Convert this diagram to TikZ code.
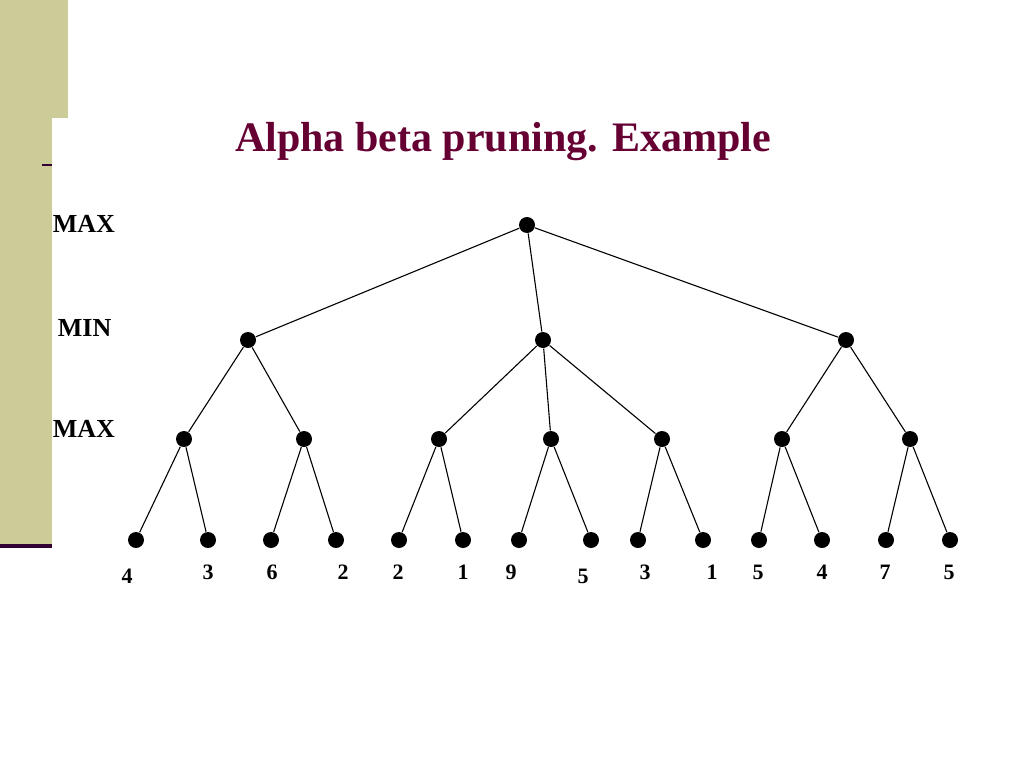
\documentclass[tikz,border=0pt]{standalone}
\usepackage{fontspec}
\setmainfont{Liberation Serif}
\definecolor{sidebar}{RGB}{204,204,153}
\definecolor{titlered}{RGB}{102,0,51}
\definecolor{darkline}{RGB}{51,0,51}
\begin{document}
\begin{tikzpicture}[x=1pt, y=-1pt,
    dot/.style={circle, fill=black, inner sep=0pt, minimum size=16pt},
    level/.style={anchor=west, font=\fontsize{26}{30}\selectfont\bfseries},
    leaf/.style={font=\fontsize{22}{26}\selectfont\bfseries},
    every path/.style={line width=1.1pt}]
    \useasboundingbox (0,0) rectangle (1024,768);
    % slide decoration
    \fill[sidebar] (0,0) rectangle (68,118);
    \fill[sidebar] (0,118) rectangle (52,545);
    \fill[darkline] (0,544) rectangle (52,548);
    \draw[darkline, line width=2pt] (42,165) -- (52,165);

    \node[font=\fontsize{42}{50}\selectfont\bfseries, text=titlered] (title) at (503,142) {Alpha beta pruning. Example};

    \node[level] (lmax) at (49,224) {MAX};
    \node[level] (lmin) at (54,328) {MIN};
    \node[level] (lmax2) at (49,429) {MAX};

    % root and MIN level
    \node[dot] (r) at (527,225) {};
    \node[dot] (a) at (248,340) {};
    \node[dot] (b) at (543,340) {};
    \node[dot] (c) at (846,340) {};

    % MAX level
    \node[dot] (a1) at (184,439) {};
    \node[dot] (a2) at (304,439) {};
    \node[dot] (b1) at (439,439) {};
    \node[dot] (b2) at (551,439) {};
    \node[dot] (b3) at (662,439) {};
    \node[dot] (c1) at (782,439) {};
    \node[dot] (c2) at (910,439) {};

    % leaves
    \node[dot] (a11) at (136,540) {};
    \node[dot] (a12) at (208,540) {};
    \node[dot] (a21) at (271,540) {};
    \node[dot] (a22) at (336,540) {};
    \node[dot] (b11) at (399,540) {};
    \node[dot] (b12) at (463,540) {};
    \node[dot] (b21) at (519,540) {};
    \node[dot] (b22) at (591,540) {};
    \node[dot] (b31) at (638,540) {};
    \node[dot] (b32) at (703,540) {};
    \node[dot] (c11) at (759,540) {};
    \node[dot] (c12) at (822,540) {};
    \node[dot] (c21) at (886,540) {};
    \node[dot] (c22) at (950,540) {};

    \draw (r) -- (a);
    \draw (r) -- (b);
    \draw (r) -- (c);
    \draw (a) -- (a1);
    \draw (a) -- (a2);
    \draw (b) -- (b1);
    \draw (b) -- (b2);
    \draw (b) -- (b3);
    \draw (c) -- (c1);
    \draw (c) -- (c2);
    \draw (a1) -- (a11);
    \draw (a1) -- (a12);
    \draw (a2) -- (a21);
    \draw (a2) -- (a22);
    \draw (b1) -- (b11);
    \draw (b1) -- (b12);
    \draw (b2) -- (b21);
    \draw (b2) -- (b22);
    \draw (b3) -- (b31);
    \draw (b3) -- (b32);
    \draw (c1) -- (c11);
    \draw (c1) -- (c12);
    \draw (c2) -- (c21);
    \draw (c2) -- (c22);

    % leaf values
    \node[leaf] (v1) at (127,576) {4};
    \node[leaf] (v2) at (208,572) {3};
    \node[leaf] (v3) at (272,572) {6};
    \node[leaf] (v4) at (343,572) {2};
    \node[leaf] (v5) at (398,572) {2};
    \node[leaf] (v6) at (463,572) {1};
    \node[leaf] (v7) at (511,572) {9};
    \node[leaf] (v8) at (583,576) {5};
    \node[leaf] (v9) at (645,572) {3};
    \node[leaf] (v10) at (712,572) {1};
    \node[leaf] (v11) at (758,572) {5};
    \node[leaf] (v12) at (822,572) {4};
    \node[leaf] (v13) at (885,572) {7};
    \node[leaf] (v14) at (949,572) {5};
\end{tikzpicture}
\end{document}
